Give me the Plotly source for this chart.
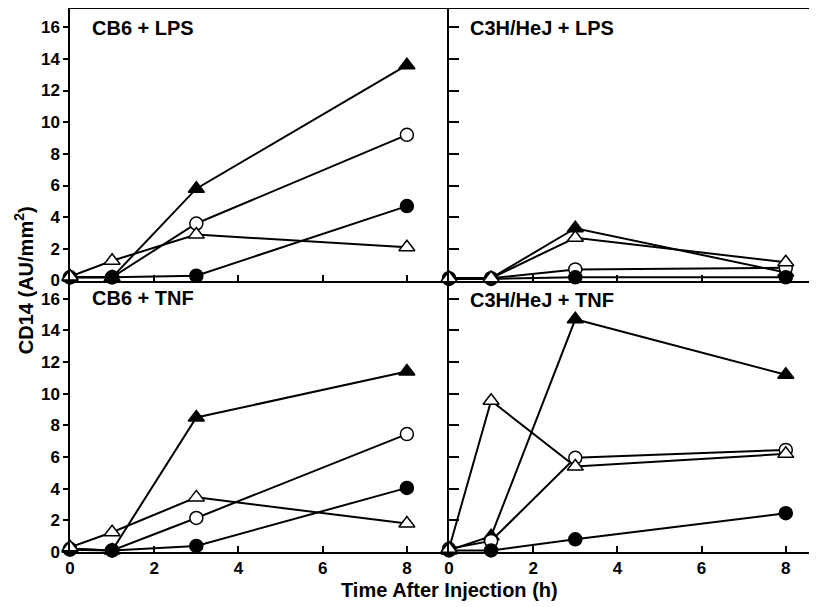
import plotly.graph_objects as go

times = [0, 1, 3, 8]
panels = ["CB6 + LPS", "C3H/HeJ + LPS", "CB6 + TNF", "C3H/HeJ + TNF"]

# series per panel: filled triangle, open circle, filled circle, open triangle
cb6_lps_filled_tri = [0.2, 0.2, 5.8, 13.6]
cb6_lps_open_circ = [0.2, 0.2, 3.6, 9.2]
cb6_lps_filled_circ = [0.2, 0.2, 0.3, 4.7]
cb6_lps_open_tri = [0.25, 1.25, 2.9, 2.1]

c3h_lps_filled_tri = [0.15, 0.15, 3.3, 0.5]
c3h_lps_open_circ = [0.15, 0.15, 0.7, 0.8]
c3h_lps_filled_circ = [0.1, 0.1, 0.2, 0.2]
c3h_lps_open_tri = [0.15, 0.15, 2.7, 1.15]

cb6_tnf_filled_tri = [0.2, 0.1, 8.5, 11.4]
cb6_tnf_open_circ = [0.2, 0.1, 2.15, 7.45]
cb6_tnf_filled_circ = [0.15, 0.1, 0.38, 4.05]
cb6_tnf_open_tri = [0.3, 1.25, 3.45, 1.8]

c3h_tnf_filled_tri = [0.1, 1.0, 14.7, 11.2]
c3h_tnf_open_circ = [0.2, 0.7, 5.95, 6.45]
c3h_tnf_filled_circ = [0.1, 0.1, 0.8, 2.45]
c3h_tnf_open_tri = [0.2, 9.55, 5.4, 6.2]

panel_data = [
    (cb6_lps_filled_tri, cb6_lps_open_circ, cb6_lps_filled_circ, cb6_lps_open_tri),
    (c3h_lps_filled_tri, c3h_lps_open_circ, c3h_lps_filled_circ, c3h_lps_open_tri),
    (cb6_tnf_filled_tri, cb6_tnf_open_circ, cb6_tnf_filled_circ, cb6_tnf_open_tri),
    (c3h_tnf_filled_tri, c3h_tnf_open_circ, c3h_tnf_filled_circ, c3h_tnf_open_tri),
]

styles = [
    dict(symbol="triangle-up", color="black", size=14),
    dict(symbol="circle", color="white", size=13),
    dict(symbol="circle", color="black", size=13),
    dict(symbol="triangle-up", color="white", size=14),
]

axis_ids = [("x", "y"), ("x2", "y2"), ("x3", "y3"), ("x4", "y4")]

fig = go.Figure()
for (xa, ya), series in zip(axis_ids, panel_data):
    for vals, st in zip(series, styles):
        fig.add_trace(go.Scatter(
            x=times, y=vals, xaxis=xa, yaxis=ya, mode="lines+markers",
            line=dict(color="black", width=2),
            marker=dict(symbol=st["symbol"], color=st["color"], size=st["size"],
                        line=dict(color="black", width=1.5)),
            cliponaxis=False, showlegend=False,
        ))

W_LEFT = 379 / 747
FONT = "Liberation Sans, Arial, sans-serif"
tickfont = dict(family=FONT, size=17, color="black", weight="bold")

common_x = dict(showline=True, linecolor="black", linewidth=1.5, showgrid=False, zeroline=False,
                ticks="inside", ticklen=6, tickwidth=1.5, tickcolor="black",
                tickvals=[0, 2, 4, 6, 8], tickfont=tickfont)
common_y = dict(showline=True, linecolor="black", linewidth=1.5, showgrid=False, zeroline=False,
                tickvals=[0, 2, 4, 6, 8, 10, 12, 14, 16], tickfont=tickfont, range=[0, 17.15],
                tickwidth=1.5, tickcolor="black")

fig.update_layout(
    width=809, height=599,
    margin=dict(l=62, r=0, t=1, b=55),
    paper_bgcolor="white", plot_bgcolor="white",
    font=dict(family=FONT, color="black"),
    xaxis=dict(common_x, domain=[0, W_LEFT], range=[0, 9], anchor="y", showticklabels=False, mirror=True),
    yaxis=dict(common_y, domain=[0.5, 1], anchor="x", ticks="outside", ticklen=5),
    xaxis2=dict(common_x, domain=[W_LEFT, 1], range=[0, 368 / 42.1], anchor="y2", showticklabels=False, mirror=True),
    yaxis2=dict(common_y, domain=[0.5, 1], anchor="x2", ticks="inside", ticklen=10, showticklabels=False),
    xaxis3=dict(common_x, domain=[0, W_LEFT], range=[0, 9], anchor="y3"),
    yaxis3=dict(common_y, domain=[0, 0.5], anchor="x3", ticks="outside", ticklen=5),
    xaxis4=dict(common_x, domain=[W_LEFT, 1], range=[0, 368 / 42.1], anchor="y4"),
    yaxis4=dict(common_y, domain=[0, 0.5], anchor="x4", ticks="inside", ticklen=10, showticklabels=False),
)

title_font = dict(family=FONT, size=20, color="black", weight="bold")
title_pos = [("x domain", "y domain", 0.053, 0.93), ("x2 domain", "y2 domain", 0.052, 0.93),
             ("x3 domain", "y3 domain", 0.053, 0.935), ("x4 domain", "y4 domain", 0.052, 0.93)]
for name, (xr, yr, px, py) in zip(panels, title_pos):
    fig.add_annotation(text=name, xref=xr, yref=yr, x=px, y=py, xanchor="left", yanchor="middle",
                       showarrow=False, font=title_font)

fig.add_annotation(text="Time After Injection (h)", xref="paper", yref="paper", x=0.5087, y=-0.07,
                   xanchor="center", yanchor="middle", showarrow=False, font=title_font)
fig.add_annotation(text="CD14 (AU/mm<sup>2</sup>)", xref="paper", yref="paper", x=-0.062, y=0.5,
                   xanchor="center", yanchor="middle", textangle=-90, showarrow=False, font=title_font)

fig.write_html("out.html")
